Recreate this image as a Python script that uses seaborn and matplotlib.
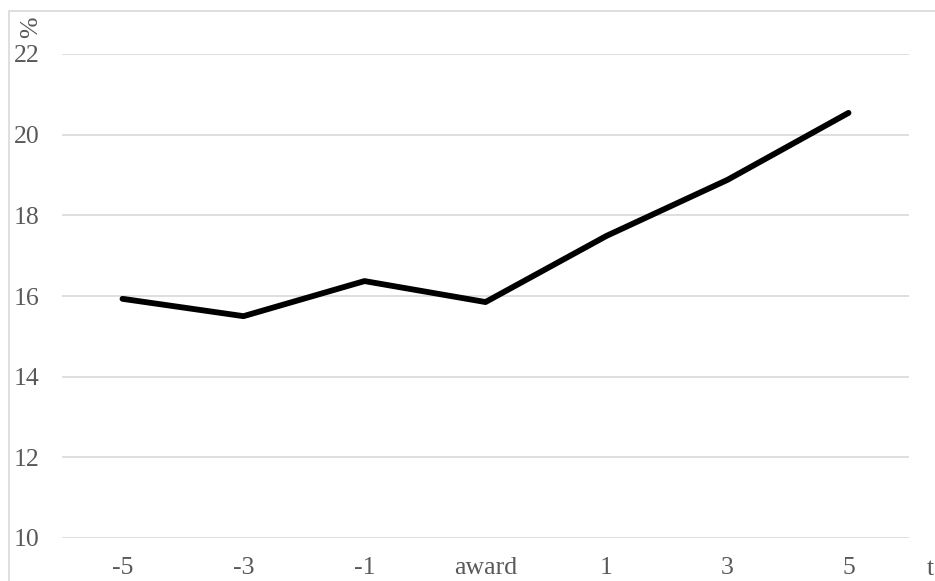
import matplotlib
matplotlib.use("Agg")
import matplotlib.pyplot as plt
import matplotlib.patches as mpatches
import seaborn as sns
import pandas as pd

# Share (%) by year relative to the award
periods = ["-5", "-3", "-1", "award", "1", "3", "5"]
share = [15.93, 15.50, 16.37, 15.85, 17.49, 18.88, 20.54]
y_ticks = [10, 12, 14, 16, 18, 20, 22]

sns.set_theme(style="white")
plt.rcParams["font.family"] = ["Liberation Serif", "DejaVu Serif"]

df = pd.DataFrame({"t": periods, "share": share})

fig = plt.figure(figsize=(9.35, 5.81), dpi=100)
W, H = 935, 581
ax = fig.add_axes([62 / W, 1 - 538 / H, (909 - 62) / W, (538 - 54) / H])

# Light frame around the chart area
fig.patches.append(mpatches.Rectangle((8.5 / W, -0.01), 1.0, 1 - 11.5 / H + 0.01,
                                      transform=fig.transFigure, fill=False,
                                      edgecolor="#d9d9d9", linewidth=1.2))

sns.lineplot(data=df, x="t", y="share", ax=ax, sort=False, color="black",
             linewidth=4.2, solid_capstyle="round")

ax.set_xlim(-0.5, len(periods) - 0.5)
ax.set_ylim(10, 22)
ax.set_yticks(y_ticks)
ax.set_yticklabels([str(v) for v in y_ticks])
ax.grid(axis="y", color="#d9d9d9", linewidth=1.2)
ax.grid(axis="x", visible=False)
for s in ax.spines.values():
    s.set_visible(False)
ax.tick_params(axis="both", length=0, labelsize=18.5, labelcolor="#595959")
ax.tick_params(axis="y", pad=16)
ax.tick_params(axis="x", pad=14)
ax.set_xlabel("")
ax.set_ylabel("")

fig.text(930 / W, 1 - 569 / H, "t", ha="center", va="center",
         fontsize=18.5, color="#595959")
fig.text(31 / W, 1 - 27 / H, "%", ha="center", va="center", rotation=90,
         fontsize=18.5, color="#595959")

fig.savefig("out.png", dpi=100, facecolor="white")
